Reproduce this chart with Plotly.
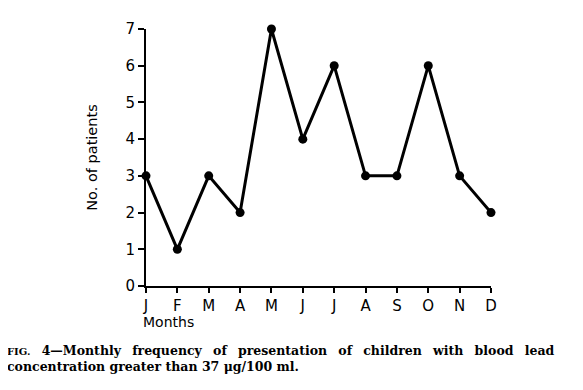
import plotly.graph_objects as go

months = ["J", "F", "M", "A", "M", "J", "J", "A", "S", "O", "N", "D"]
month_index = list(range(12))
patients = [3, 1, 3, 2, 7, 4, 6, 3, 3, 6, 3, 2]
y_ticks = [0, 1, 2, 3, 4, 5, 6, 7]

caption_line1 = ["FIG.", "4—Monthly", "frequency", "of", "presentation", "of",
                 "children", "with", "blood", "lead"]
caption_line2 = "concentration greater than 37 μg/100 ml."

sans = "DejaVu Sans"
serif = "DejaVu Serif"

fig = go.Figure()
fig.add_trace(go.Scatter(
    x=month_index, y=patients, mode="lines+markers",
    line=dict(color="black", width=3),
    marker=dict(color="black", size=9),
    cliponaxis=False, showlegend=False,
))

gap = "&nbsp;&nbsp;\u2009"
line1 = "<span style='font-size:10px'>" + caption_line1[0] + "</span>" + gap + gap.join(caption_line1[1:])
caption = "<b>" + line1 + "<br>" + caption_line2 + "</b>"

fig.update_layout(
    width=583, height=390,
    margin=dict(l=138, r=100, t=16, b=112),
    paper_bgcolor="white", plot_bgcolor="white",
    font=dict(family=sans, color="black", size=14),
    xaxis=dict(
        range=[0, 11], tickvals=month_index, ticktext=months,
        showgrid=False, zeroline=False, showline=True, linecolor="black", linewidth=2,
        ticks="outside", ticklen=5, tickwidth=2, tickcolor="black",
        tickfont=dict(family=sans, size=15),
    ),
    yaxis=dict(
        range=[0, 7], tickvals=y_ticks,
        showgrid=False, zeroline=False, showline=True, linecolor="black", linewidth=2,
        ticks="outside", ticklen=6, tickwidth=2, tickcolor="black",
        tickfont=dict(family=sans, size=15),
        title=dict(text="No. of patients", font=dict(family=sans, size=14.5), standoff=24),
    ),
    annotations=[
        dict(text="Months", xref="paper", yref="paper", x=0, y=0,
             xanchor="left", yanchor="top", xshift=-5, yshift=-26,
             showarrow=False, font=dict(family=sans, size=14)),
        dict(text=caption,
             xref="paper", yref="paper", x=0, y=0, xanchor="left", yanchor="top",
             xshift=-141, yshift=-55, align="left", showarrow=False,
             font=dict(family=serif, size=12.5)),
    ],
)

fig.write_html("out.html")
